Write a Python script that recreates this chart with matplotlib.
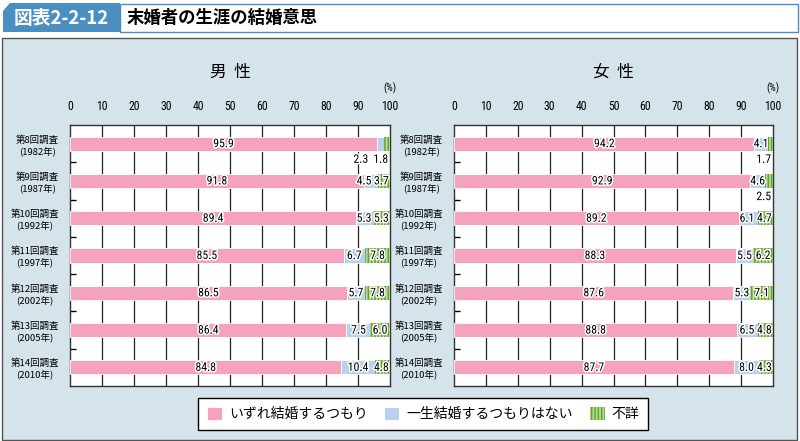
import numpy as np
import matplotlib
matplotlib.use('Agg')
import matplotlib.pyplot as plt
import matplotlib.patches as mpatches
import matplotlib.patheffects as pe
from matplotlib import font_manager

plt.rcParams['font.family'] = ['Noto Sans CJK JP', 'DejaVu Sans']
plt.rcParams['hatch.linewidth'] = 1.1

# 数字だけのラベルは細めのフォントがあればそれを使う
names = set(f.name for f in font_manager.fontManager.ttflist)
NUM_FONT = ['Noto Sans CJK JP']
for cand in ['Liberation Sans Narrow', 'Roboto Condensed', 'Open Sans Condensed']:
    if cand in names:
        NUM_FONT = [cand]
        break

### データ
surveys = ['第8回調査\n(1982年)', '第9回調査\n(1987年)', '第10回調査\n(1992年)',
           '第11回調査\n(1997年)', '第12回調査\n(2002年)', '第13回調査\n(2005年)',
           '第14回調査\n(2010年)']
series_names = ['いずれ結婚するつもり', '一生結婚するつもりはない', '不詳']

male_marry = [95.9, 91.8, 89.4, 85.5, 86.5, 86.4, 84.8]
male_never = [2.3, 4.5, 5.3, 6.7, 5.7, 7.5, 10.4]
male_unknown = [1.8, 3.7, 5.3, 7.8, 7.8, 6.0, 4.8]

female_marry = [94.2, 92.9, 89.2, 88.3, 87.6, 88.8, 87.7]
female_never = [4.1, 4.6, 6.1, 5.5, 5.3, 6.5, 8.0]
female_unknown = [1.7, 2.5, 4.7, 6.2, 7.1, 4.8, 4.3]

xticks = np.arange(0, 101, 10)

PINK = '#f4a2bd'
BLUE = '#b9d1ec'
GREEN_FACE = '#b9db95'
GREEN_HATCH = '#5ea532'
PANEL = '#d5e3eb'
HEAD_BLUE = '#4a8ec2'

W, H = 800, 441
fig = plt.figure(figsize=(W / 100, H / 100), dpi=100)
fig.patch.set_facecolor('white')
renderer = fig.canvas.get_renderer()


def fx(px):
    return px / W


def fy(py):
    return 1 - py / H


# 背景パネルと見出し (軸より下に描く)
fig.patches.append(mpatches.Rectangle((fx(2), fy(440)), fx(797) - fx(2), fy(38) - fy(440),
                                      transform=fig.transFigure, facecolor=PANEL,
                                      edgecolor='#555555', linewidth=1.0, zorder=-2))
fig.patches.append(mpatches.Rectangle((fx(120), fy(32)), fx(798) - fx(120), fy(4) - fy(32),
                                      transform=fig.transFigure, facecolor='white',
                                      edgecolor=HEAD_BLUE, linewidth=1.0, zorder=-2))
head = [(3, 32), (3, 11), (10, 3), (120, 3), (120, 32)]
fig.patches.append(mpatches.Polygon([(fx(a), fy(b)) for a, b in head], closed=True,
                                    transform=fig.transFigure, facecolor=HEAD_BLUE,
                                    edgecolor='none', zorder=-1))
fig.text(fx(61), fy(18), '図表2-2-12', color='white', fontsize=13.5, fontweight='bold',
         ha='center', va='center')
fig.text(fx(127), fy(18), '末婚者の生涯の結婚意思', color='black', fontsize=12.5,
         fontweight='bold', ha='left', va='center')

stroke = [pe.withStroke(linewidth=2.2, foreground='white')]


def value_text(ax, x, y, v, ha='center'):
    return ax.text(x, y, f'{v:.1f}', ha=ha, va='center', fontsize=8.5,
                   family=NUM_FONT, path_effects=stroke, zorder=5)


def text_width(ax, t):
    # 文字幅をデータ単位に直す
    px = t.get_window_extent(renderer).width
    return px / ax.get_window_extent(renderer).width * 100


def place_labels(ax, marry, never, unknown):
    y = np.arange(len(marry))
    for i in range(len(marry)):
        value_text(ax, marry[i] / 2, y[i], marry[i])
        starts = [marry[i], marry[i] + never[i]]
        vals = [never[i], unknown[i]]
        inside = []
        below = []
        for s, v in zip(starts, vals):
            if v < 3:
                below.append(v)
            else:
                inside.append((s + v / 2, v))
        # 右端からはみ出さず、重ならないように左へ寄せる
        limit = 99.6
        for c, v in reversed(inside):
            t = value_text(ax, c, y[i], v)
            w = text_width(ax, t)
            c = min(c, limit - w / 2)
            t.set_x(c)
            limit = c - w / 2 - 0.8
        right = 99.4
        for v in reversed(below):
            t = value_text(ax, right, y[i] + 0.42, v, ha='right')
            right -= text_width(ax, t) + 1.6


def draw_panel(ax, marry, never, unknown, title, cx):
    y = np.arange(len(marry))
    m = np.array(marry)
    n = np.array(never)
    u = np.array(unknown)
    h = 0.38
    b1 = ax.barh(y, m, height=h, color=PINK, edgecolor='white', linewidth=0.6, zorder=3,
                 label=series_names[0])
    b2 = ax.barh(y, n, left=m, height=h, color=BLUE, edgecolor='white', linewidth=0.6,
                 zorder=3, label=series_names[1])
    b3 = ax.barh(y, u, left=m + n, height=h, color=GREEN_FACE, edgecolor=GREEN_HATCH,
                 linewidth=0, hatch='|||||', zorder=3, label=series_names[2])

    ax.set_xlim(0, 100)
    ax.set_ylim(len(marry) - 0.5, -0.5)
    ax.set_facecolor('white')
    ax.xaxis.tick_top()
    ax.set_xticks(xticks)
    ax.set_xticklabels([str(t) for t in xticks], family=NUM_FONT, fontsize=8.5)
    ax.tick_params(axis='x', length=0, pad=9)
    ax.set_yticks(y)
    ax.set_yticklabels(surveys, fontsize=6.8, linespacing=1.2, multialignment='center')
    ax.tick_params(axis='y', which='major', length=0, pad=8)
    ax.set_yticks(np.arange(0.5, len(marry) - 1), minor=True)
    ax.tick_params(axis='y', which='minor', direction='in', length=4, width=1, color='black')
    for xv in xticks[1:-1]:
        ax.axvline(xv, color='#222222', linewidth=0.9, zorder=1)
    for s in ax.spines.values():
        s.set_color('#333333')
        s.set_linewidth(1.0)
    place_labels(ax, marry, never, unknown)
    fig.text(fx(cx), fy(72), title, fontsize=12, ha='center', va='center')
    x1 = ax.get_position().x1
    fig.text(x1, fy(88), '(%)', fontsize=7.5, family=NUM_FONT, ha='center', va='center')
    return b1, b2, b3


ax1 = fig.add_axes([fx(70), fy(386), fx(390) - fx(70), fy(125) - fy(386)])
ax2 = fig.add_axes([fx(454), fy(386), fx(773) - fx(454), fy(125) - fy(386)])

handles = draw_panel(ax1, male_marry, male_never, male_unknown, '男  性', 230)
draw_panel(ax2, female_marry, female_never, female_unknown, '女  性', 613)

leg = fig.legend(handles, series_names, loc='center', bbox_to_anchor=(fx(423), fy(414)),
                 ncol=3, fontsize=10, frameon=True, fancybox=False, edgecolor='black',
                 handlelength=1.1, handleheight=1.1, handletextpad=0.5, columnspacing=1.2,
                 borderpad=0.6)
leg.get_frame().set_linewidth(1.0)
leg.get_frame().set_facecolor('white')
leg.get_frame().set_alpha(1)

fig.savefig('out.png', dpi=100, facecolor=fig.get_facecolor())
